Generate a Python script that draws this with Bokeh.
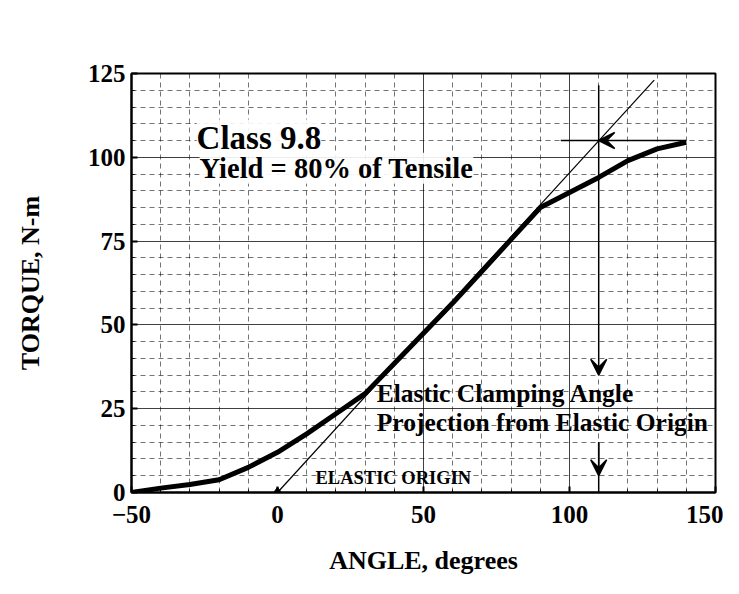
from bokeh.plotting import figure
from bokeh.models import Range1d, FixedTicker, Grid, Label, Arrow, VeeHead
from bokeh.embed import file_html
from bokeh.resources import INLINE

# ---- data ----
angle = [-50, -40, -30, -20, -10, 0, 10, 20, 30, 40, 50, 60, 70, 80, 90, 100, 110, 120, 130, 140]
torque = [0, 1.3, 2.4, 3.8, 7.5, 12, 17.5, 23.5, 29.5, 38.5, 47.5, 56.5, 66, 75.5, 85, 89.5, 94, 99, 102.5, 104.5]

tangent_angle = [0, 129]
tangent_torque = [0, 123]

origin_angle = [0]
origin_torque = [0]

yield_angle = 110
yield_torque = 105
curve_end_angle = 140
horiz_line_start = 97
vert_top = 121.5
vert_arrow_tip = 35
lower_arrow_start = 15
lower_arrow_tip = 5

x_ticks = [-50, 0, 50, 100, 150]
y_ticks = [0, 25, 50, 75, 100, 125]
x_minor = [-40, -30, -20, -10, 10, 20, 30, 40, 60, 70, 80, 90, 110, 120, 130, 140]
y_minor = [5, 10, 15, 20, 30, 35, 40, 45, 55, 60, 65, 70, 80, 85, 90, 95, 105, 110, 115, 120]
x_solid = [50, 100]
y_solid = [25, 50, 75, 100]

FONT = "Liberation Serif"

p = figure(width=723, height=578,
           x_range=Range1d(-50, 150), y_range=Range1d(0, 125),
           output_backend="svg", toolbar_location=None,
           min_border_left=131, min_border_right=8,
           min_border_top=73, min_border_bottom=86,
           background_fill_color="white", border_fill_color="white")

p.outline_line_color = "black"
p.outline_line_width = 2

p.xgrid.grid_line_color = None
p.ygrid.grid_line_color = None

# dashed grid
p.add_layout(Grid(dimension=0, ticker=FixedTicker(ticks=x_minor),
                  grid_line_color="black", grid_line_alpha=0.55,
                  grid_line_dash="5 4", grid_line_width=1))
p.add_layout(Grid(dimension=1, ticker=FixedTicker(ticks=y_minor),
                  grid_line_color="black", grid_line_alpha=0.55,
                  grid_line_dash="5 4", grid_line_width=1))
# solid grid
p.add_layout(Grid(dimension=0, ticker=FixedTicker(ticks=x_solid),
                  grid_line_color="black", grid_line_alpha=0.75, grid_line_width=1))
p.add_layout(Grid(dimension=1, ticker=FixedTicker(ticks=y_solid),
                  grid_line_color="black", grid_line_alpha=0.75, grid_line_width=1))

for ax, ticks, minor in ((p.xaxis[0], x_ticks, x_minor), (p.yaxis[0], y_ticks, y_minor)):
    ax.ticker = FixedTicker(ticks=ticks, minor_ticks=minor)
    ax.axis_line_color = "black"
    ax.axis_line_width = 2
    ax.major_tick_in = 6
    ax.major_tick_out = 0
    ax.minor_tick_in = 3
    ax.minor_tick_out = 0
    ax.major_tick_line_width = 2
    ax.major_label_text_font = FONT
    ax.major_label_text_font_style = "bold"
    ax.major_label_text_font_size = "25px"
    ax.major_label_text_color = "black"
    ax.axis_label_text_font = FONT
    ax.axis_label_text_font_style = "bold"
    ax.axis_label_text_font_size = "26px"
    ax.axis_label_text_color = "black"

p.xaxis.axis_label = "ANGLE, degrees"
p.yaxis.axis_label = "TORQUE, N-m"
p.xaxis.major_label_standoff = 13
p.yaxis.major_label_standoff = 6
p.xaxis.axis_label_standoff = 20
p.yaxis.axis_label_standoff = 40

# curves
p.line(tangent_angle, tangent_torque, line_color="black", line_width=1.2)
p.line(angle, torque, line_color="black", line_width=5)
p.scatter(origin_angle, origin_torque, marker="diamond", size=11, color="black")

# projection lines / arrows
head = dict(size=16, fill_color="black", line_color="black", line_width=1.5)
p.line([horiz_line_start, yield_angle], [yield_torque, yield_torque], line_color="black", line_width=1.5)
p.add_layout(Arrow(end=VeeHead(**head),
                   x_start=curve_end_angle, y_start=yield_torque,
                   x_end=yield_angle, y_end=yield_torque,
                   line_color="black", line_width=1.5))
p.add_layout(Arrow(end=VeeHead(**head),
                   x_start=yield_angle, y_start=vert_top,
                   x_end=yield_angle, y_end=vert_arrow_tip,
                   line_color="black", line_width=1.5))
p.line([yield_angle, yield_angle], [lower_arrow_start, 0], line_color="black", line_width=1.5)
p.add_layout(Arrow(end=VeeHead(**head),
                   x_start=yield_angle, y_start=lower_arrow_start,
                   x_end=yield_angle, y_end=lower_arrow_tip,
                   line_color="black", line_width=1.5))

# texts
bg = dict(background_fill_color="white", background_fill_alpha=0.9)
p.add_layout(Label(x=-27.7, y=105.9, text="Class 9.8", text_font=FONT,
                   text_font_style="bold", text_font_size="33px", text_color="black",
                   text_baseline="alphabetic", **bg))
p.add_layout(Label(x=-26.7, y=96.7, text="Yield = 80% of Tensile", text_font=FONT,
                   text_font_style="bold", text_font_size="28.5px", text_color="black",
                   text_baseline="alphabetic", **bg))
p.add_layout(Label(x=34, y=29.5, text="Elastic Clamping Angle", text_font=FONT,
                   text_font_style="bold", text_font_size="25.5px", text_color="black",
                   text_baseline="alphabetic"))
p.add_layout(Label(x=34, y=20.8, text="Projection from Elastic Origin", text_font=FONT,
                   text_font_style="bold", text_font_size="25.5px", text_color="black",
                   text_baseline="alphabetic"))
p.add_layout(Label(x=13, y=4.2, text="ELASTIC ORIGIN", text_font=FONT,
                   text_font_style="bold", text_font_size="18.5px", text_color="black",
                   text_baseline="alphabetic"))

open("out.html", "w").write(file_html(p, INLINE))
